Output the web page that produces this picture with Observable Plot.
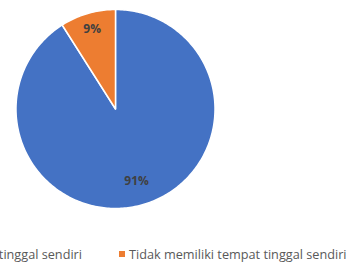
<!DOCTYPE html>
<html><head><meta charset="utf-8">
<script src="https://cdn.jsdelivr.net/npm/d3@7"></script>
<script src="https://cdn.jsdelivr.net/npm/@observablehq/plot@0.6"></script>
<style>
html,body{margin:0;padding:0;background:#fff;overflow:hidden;width:353px;height:264px;}
#wrap{position:relative;width:353px;height:264px;font-family:"Open Sans",sans-serif;}
.leg{position:absolute;top:245px;white-space:nowrap;font-size:12.7px;color:#595959;display:flex;align-items:center;}
.sw{display:inline-block;width:6px;height:6px;margin-right:4px;}
</style></head>
<body><div id="wrap"></div>
<script>
const categories = ["Memiliki tempat tinggal sendiri", "Tidak memiliki tempat tinggal sendiri"];
const values = [91, 9];
const labels = ["91%", "9%"];
const colors = ["#4472C4", "#ED7D31"];
const labelRadius = [0.76, 0.84];

const total = d3.sum(values);
const pts = [];
const labelData = [];
let start = 0;
values.forEach((v, i) => {
  const a0 = start, a1 = start + v / total * 2 * Math.PI;
  pts.push({cat: categories[i], x: 0, y: 0});
  const n = Math.max(2, Math.ceil((a1 - a0) / (Math.PI / 180)));
  for (let k = 0; k <= n; k++) {
    const a = a0 + (a1 - a0) * k / n;
    pts.push({cat: categories[i], x: Math.sin(a), y: Math.cos(a)});
  }
  pts.push({cat: categories[i], x: 0, y: 0});
  const m = (a0 + a1) / 2;
  labelData.push({t: labels[i], x: Math.sin(m) * labelRadius[i], y: Math.cos(m) * labelRadius[i]});
  start = a1;
});

const R = 99.5, W = 353, H = 240, cx = 115, cy = 108.5;
const xmin = -cx / R, ymax = cy / R;
const chart = Plot.plot({
  width: W, height: H,
  margin: 0,
  style: {fontFamily: "Open Sans", background: "transparent"},
  x: {domain: [xmin, xmin + W / R], axis: null},
  y: {domain: [ymax - H / R, ymax], axis: null},
  color: {domain: categories, range: colors},
  marks: [
    Plot.line(pts, {x: "x", y: "y", z: "cat", fill: "cat", stroke: "white", strokeWidth: 1.5, curve: "linear"}),
    Plot.text(labelData, {x: "x", y: "y", text: "t", fill: "#404040", fontWeight: "bold", fontSize: 12})
  ]
});
const wrap = document.getElementById("wrap");
wrap.appendChild(chart);

// legend
const l1 = document.createElement("div");
l1.className = "leg";
l1.style.right = (353 - 82) + "px";
l1.innerHTML = `<span class="sw" style="background:${colors[0]}"></span>${categories[0]}`;
wrap.appendChild(l1);
const l2 = document.createElement("div");
l2.className = "leg";
l2.style.left = "119px";
l2.innerHTML = `<span class="sw" style="background:${colors[1]}"></span>${categories[1]}`;
wrap.appendChild(l2);
</script></body></html>
